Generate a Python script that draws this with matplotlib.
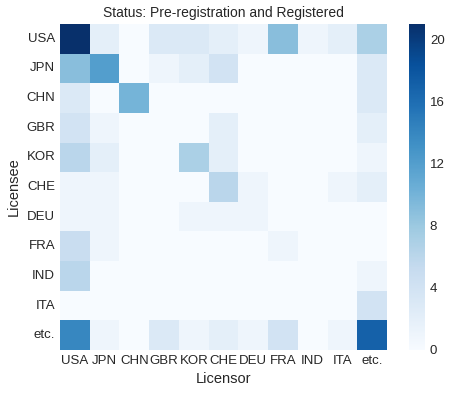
import numpy as np
import matplotlib
matplotlib.use("Agg")
import matplotlib.pyplot as plt
import seaborn as sns

countries = ["USA", "JPN", "CHN", "GBR", "KOR", "CHE", "DEU", "FRA", "IND", "ITA", "etc."]
# rows: licensee, columns: licensor
usa = [21, 2, 0, 3, 3, 2, 1, 9, 1, 2, 7]
jpn = [9, 12, 0, 1, 2, 4, 0, 0, 0, 0, 3]
chn = [3, 0, 10, 0, 0, 0, 0, 0, 0, 0, 3]
gbr = [4, 1, 0, 0, 0, 2, 0, 0, 0, 0, 2]
kor = [6, 2, 0, 0, 7, 2, 0, 0, 0, 0, 1]
che = [1, 1, 0, 0, 0, 6, 1, 0, 0, 1, 2]
deu = [1, 1, 0, 0, 1, 1, 1, 0, 0, 0, 0]
fra = [5, 1, 0, 0, 0, 0, 0, 1, 0, 0, 0]
ind = [6, 0, 0, 0, 0, 0, 0, 0, 0, 0, 1]
ita = [0, 0, 0, 0, 0, 0, 0, 0, 0, 0, 4]
etc = [14, 1, 0, 3, 1, 2, 1, 4, 0, 1, 17]

data = np.array([usa, jpn, chn, gbr, kor, che, deu, fra, ind, ita, etc])

sns.set_style("darkgrid")
plt.rcParams['font.family'] = ['Liberation Sans', 'DejaVu Sans']

fig = plt.figure(figsize=(4.53, 3.94), dpi=100)
ax = fig.add_axes([60/453, 1 - 350/394, 327/453, 326/394])
cax = fig.add_axes([409/453, 1 - 350/394, 16/453, 326/394])
sns.heatmap(data, ax=ax, cbar_ax=cax, cmap="Blues", vmin=0, vmax=21,
            xticklabels=countries, yticklabels=countries)
ax.set_title("Status: Pre-registration and Registered", fontsize=10, color="#262626", pad=5)
ax.set_xlabel("Licensor", fontsize=10.5, color="#262626")
ax.set_ylabel("Licensee", fontsize=10.5, color="#262626")
ax.tick_params(axis='both', labelsize=9.5, colors="#262626", length=0)
plt.setp(ax.get_yticklabels(), rotation=0)
plt.setp(ax.get_xticklabels(), rotation=0)
cax.set_yticks([0, 4, 8, 12, 16, 20])
cax.tick_params(labelsize=9.5, colors="#262626", length=0)
for s in cax.spines.values():
    s.set_visible(False)
fig.savefig("out.png", dpi=100)
